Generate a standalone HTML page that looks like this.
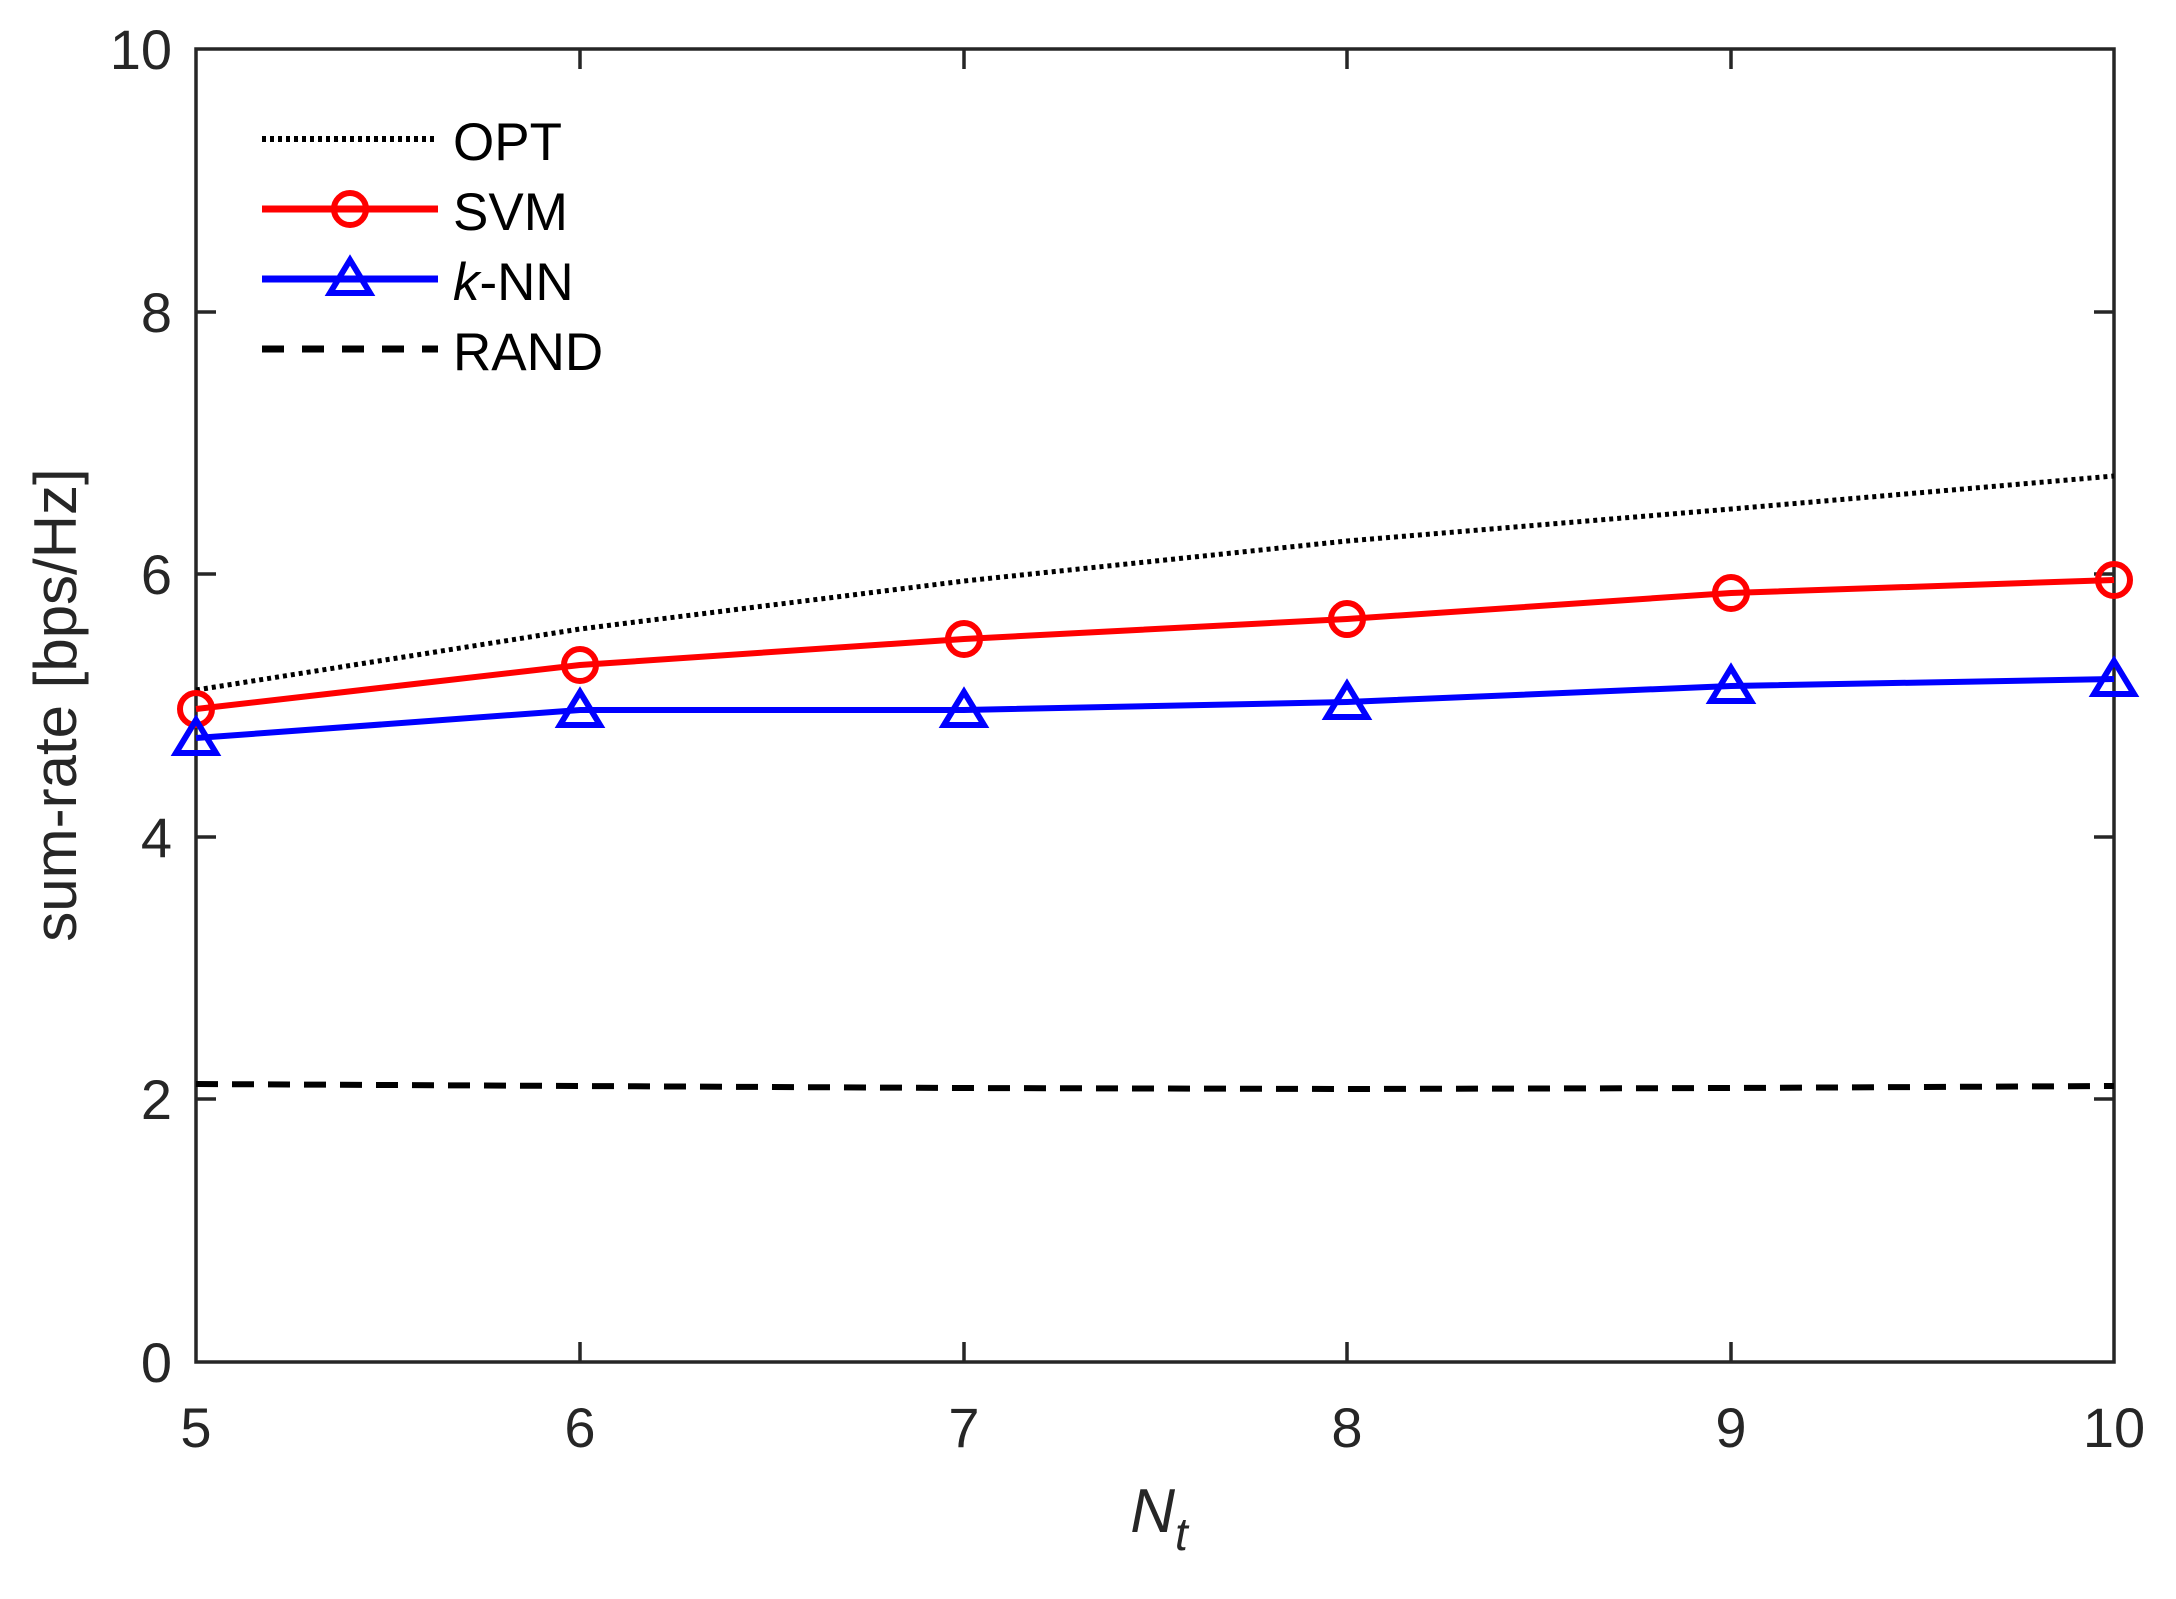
<!DOCTYPE html>
<html><head><style>body{margin:0;background:#fff}</style></head><body>
<svg width="2176" height="1594" xmlns="http://www.w3.org/2000/svg" font-family="Liberation Sans, sans-serif">
<rect width="2176" height="1594" fill="#fff"/>
<g stroke="#262626" stroke-width="3.5" fill="none">
<rect x="196" y="49" width="1918" height="1313"/>
<path d="M580,1362v-20M964,1362v-20M1347,1362v-20M1731,1362v-20M580,49v20M964,49v20M1347,49v20M1731,49v20"/>
<path d="M196,1099h20M196,837h20M196,574h20M196,312h20M2114,1099h-20M2114,837h-20M2114,574h-20M2114,312h-20"/>
</g>
<g fill="#262626" font-size="56" text-anchor="end">
<text x="172" y="1382">0</text><text x="172" y="1119">2</text><text x="172" y="857">4</text><text x="172" y="594">6</text><text x="172" y="332">8</text><text x="172" y="69">10</text>
</g>
<g fill="#262626" font-size="56" text-anchor="middle">
<text x="196" y="1447">5</text><text x="580" y="1447">6</text><text x="964" y="1447">7</text><text x="1347" y="1447">8</text><text x="1731" y="1447">9</text><text x="2114" y="1447">10</text>
</g>
<text x="1159" y="1532" font-size="62" font-style="italic" text-anchor="middle" fill="#262626">N<tspan font-size="46" dy="18">t</tspan></text>
<text transform="translate(76,705) rotate(-90)" font-size="60" text-anchor="middle" fill="#262626">sum-rate [bps/Hz]</text>
<polyline fill="none" stroke="#000" stroke-width="5" stroke-dasharray="4,4" points="196,690 580,629 964,581 1347,541 1731,509 2114,476"/>
<polyline fill="none" stroke="#000" stroke-width="6" stroke-dasharray="22,14" points="196,1084 580,1086 964,1088 1347,1089 1731,1088 2114,1086"/>
<polyline fill="none" stroke="#f00" stroke-width="6" points="196,709 580,665 964,639 1347,619 1731,593 2114,580"/>
<g fill="none" stroke="#f00" stroke-width="6">
<circle cx="196" cy="709" r="16"/><circle cx="580" cy="665" r="16"/><circle cx="964" cy="639" r="16"/><circle cx="1347" cy="619" r="16"/><circle cx="1731" cy="593" r="16"/><circle cx="2114" cy="580" r="16"/>
</g>
<polyline fill="none" stroke="#00f" stroke-width="6" points="196,738 580,710 964,710 1347,702 1731,686 2114,679"/>
<g fill="none" stroke="#00f" stroke-width="6">
<path d="M196,720l20,33h-40z"/><path d="M580,692l20,33h-40z"/><path d="M964,692l20,33h-40z"/><path d="M1347,684l20,33h-40z"/><path d="M1731,668l20,33h-40z"/><path d="M2114,661l20,33h-40z"/>
</g>
<line x1="262" y1="139" x2="438" y2="139" stroke="#000" stroke-width="6" stroke-dasharray="4,4"/>
<line x1="262" y1="209" x2="438" y2="209" stroke="#f00" stroke-width="7"/>
<circle cx="350" cy="209" r="16" fill="none" stroke="#f00" stroke-width="6"/>
<line x1="262" y1="279" x2="438" y2="279" stroke="#00f" stroke-width="7"/>
<path d="M350,260l20,33h-40z" fill="none" stroke="#00f" stroke-width="6"/>
<line x1="262" y1="349" x2="438" y2="349" stroke="#000" stroke-width="7" stroke-dasharray="22,18"/>
<g font-size="53" fill="#000">
<text x="453" y="160">OPT</text><text x="453" y="230">SVM</text><text x="453" y="300"><tspan font-style="italic">k</tspan>-NN</text><text x="453" y="370">RAND</text>
</g>
</svg>
</body></html>
